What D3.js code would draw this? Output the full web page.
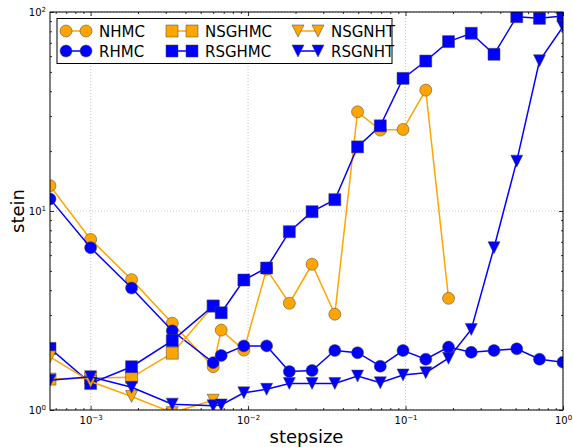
<!DOCTYPE html>
<html>
<head>
<meta charset="utf-8">
<script src="https://cdn.jsdelivr.net/npm/d3@7"></script>
<style>
  html, body { margin: 0; padding: 0; background: #fff; }
  svg { display: block; font-family: "DejaVu Sans", sans-serif; }
</style>
</head>
<body>
<svg id="chart" width="573" height="447"></svg>
<script>
// ---- data ----
const coarseSteps = [5.52e-4, 1.0e-3, 1.82e-3, 3.30e-3, 6.0e-3];
const fineSteps = [0.00675, 0.00940, 0.01311, 0.01828, 0.02549, 0.03555, 0.04957, 0.06913,
                   0.0964, 0.1344, 0.1875, 0.2614, 0.3646, 0.5084, 0.7090, 1.0];
const stepsizes = coarseSteps.concat(fineSteps);

const NHMC   = [13.4, 7.2, 4.52, 2.73, 1.65, 2.52, 2.0, 5.1, 3.44, 5.4, 3.03, 31.5, 25.5, 25.7, 40.5, 3.64];
const RHMC   = [11.5, 6.54, 4.1, 2.5, 1.73, 1.88, 2.1, 2.1, 1.56, 1.58, 1.99, 1.94, 1.66, 1.99, 1.80, 2.07, 1.95, 1.99, 2.03, 1.80, 1.74];
const NSGHMC = [1.43, 1.45, 1.46, 1.93, 3.33];
const RSGHMC = [2.04, 1.36, 1.65, 2.23, 3.33, 3.08, 4.5, 5.17, 7.87, 9.92, 11.4, 21.0, 26.8, 46.4, 56.7, 71, 78.2, 61.3, 94.7, 92.9, 95.5];
const NSGNHT = [1.85, 1.39, 1.17, 0.97, 1.12];
const RSGNHT = [1.41, 1.47, 1.30, 1.07, 1.05, 1.06, 1.22, 1.27, 1.36, 1.36, 1.36, 1.48, 1.37, 1.50, 1.54, 1.82, 2.54, 6.54, 17.8, 56.9, 84.4];

const seriesNames = ["NHMC", "RHMC", "NSGHMC", "RSGHMC", "NSGNHT", "RSGNHT"];
const seriesValues = [NHMC, RHMC, NSGHMC, RSGHMC, NSGNHT, RSGNHT];
const seriesColors = ["#FFA500", "#0000FF", "#FFA500", "#0000FF", "#FFA500", "#0000FF"];
const seriesMarkers = ["circle", "circle", "square", "square", "tri", "tri"];

const xTickExps = [-3, -2, -1, 0];
const yTickExps = [0, 1, 2];
const xLabel = "stepsize";
const yLabel = "stein";

// ---- layout ----
const L = 50, R = 563, T = 12, B = 410;
const svg = d3.select("#chart");
const x = d3.scaleLog().domain([5.52e-4, 1]).range([L, R]);
const y = d3.scaleLog().domain([1, 100]).range([B, T]);

svg.append("defs").append("clipPath").attr("id", "clip")
  .append("rect").attr("x", L).attr("y", T).attr("width", R - L).attr("height", B - T);

// grid
const grid = svg.append("g");
xTickExps.forEach(e => {
  const v = Math.pow(10, e);
  grid.append("line").attr("x1", x(v)).attr("x2", x(v)).attr("y1", T).attr("y2", B)
    .attr("stroke", "#b8b8b8").attr("stroke-width", 0.8).attr("stroke-dasharray", "1,2");
});
yTickExps.forEach(e => {
  const v = Math.pow(10, e);
  grid.append("line").attr("x1", L).attr("x2", R).attr("y1", y(v)).attr("y2", y(v))
    .attr("stroke", "#b8b8b8").attr("stroke-width", 0.8).attr("stroke-dasharray", "1,2");
});

// minor tick values
function minors(lo, hi) {
  const out = [];
  for (let e = Math.floor(Math.log10(lo)); e <= Math.ceil(Math.log10(hi)); e++) {
    for (let m = 2; m <= 9; m++) {
      const v = m * Math.pow(10, e);
      if (v >= lo && v <= hi) out.push(v);
    }
  }
  return out;
}
const xMaj = xTickExps.map(e => Math.pow(10, e));
const yMaj = yTickExps.map(e => Math.pow(10, e));
const xMin = minors(5.52e-4, 1);
const yMin = minors(1, 100);

function styleAxis(g) {
  g.select(".domain").remove();
  g.selectAll(".tick line").attr("stroke", "#000").attr("stroke-width", 0.8);
}

// major ticks (inward) with custom labels
const bottomAxis = svg.append("g").attr("transform", `translate(0,${B})`)
  .call(d3.axisBottom(x).tickValues(xMaj).tickSize(-4).tickPadding(7).tickFormat(() => ""));
styleAxis(bottomAxis);
bottomAxis.selectAll(".tick text").each(function(d) {
  const t = d3.select(this).attr("font-size", 10).attr("fill", "#000")
    .attr("font-family", "DejaVu Sans, sans-serif");
  const e = Math.round(Math.log10(d));
  t.text(null);
  t.append("tspan").text("10");
  t.append("tspan").attr("dy", -4).attr("font-size", 7).text(e < 0 ? "\u2212" + (-e) : String(e));
});
svg.append("g").attr("transform", `translate(0,${B})`)
  .call(d3.axisBottom(x).tickValues(xMin).tickSize(-2).tickFormat(() => "")).call(styleAxis);
svg.append("g").attr("transform", `translate(0,${T})`)
  .call(d3.axisTop(x).tickValues(xMaj).tickSize(-4).tickFormat(() => "")).call(styleAxis);
svg.append("g").attr("transform", `translate(0,${T})`)
  .call(d3.axisTop(x).tickValues(xMin).tickSize(-2).tickFormat(() => "")).call(styleAxis);

const leftAxis = svg.append("g").attr("transform", `translate(${L},0)`)
  .call(d3.axisLeft(y).tickValues(yMaj).tickSize(-4).tickPadding(4).tickFormat(() => ""));
styleAxis(leftAxis);
leftAxis.selectAll(".tick text").each(function(d) {
  const t = d3.select(this).attr("font-size", 10).attr("fill", "#000")
    .attr("font-family", "DejaVu Sans, sans-serif");
  const e = Math.round(Math.log10(d));
  t.text(null);
  t.append("tspan").text("10");
  t.append("tspan").attr("dy", -4).attr("font-size", 7).text(String(e));
});
svg.append("g").attr("transform", `translate(${L},0)`)
  .call(d3.axisLeft(y).tickValues(yMin).tickSize(-2).tickFormat(() => "")).call(styleAxis);
svg.append("g").attr("transform", `translate(${R},0)`)
  .call(d3.axisRight(y).tickValues(yMaj).tickSize(-4).tickFormat(() => "")).call(styleAxis);
svg.append("g").attr("transform", `translate(${R},0)`)
  .call(d3.axisRight(y).tickValues(yMin).tickSize(-2).tickFormat(() => "")).call(styleAxis);

// markers
const MS = 12;
function markerPath(type) {
  const h = MS / 2;
  if (type === "square") return `M${-h},${-h}H${h}V${h}H${-h}Z`;
  if (type === "tri") return `M${-h},${-h}H${h}L0,${h}Z`;
  return d3.symbol(d3.symbolCircle, Math.PI * h * h)();
}

// series
const plot = svg.append("g").attr("clip-path", "url(#clip)");
const line = d3.line().x(d => x(d[0])).y(d => y(d[1]));
seriesValues.forEach((vals, i) => {
  const pts = vals.map((v, j) => [stepsizes[j], v]);
  const g = plot.append("g");
  g.append("path").attr("d", line(pts)).attr("fill", "none")
    .attr("stroke", seriesColors[i]).attr("stroke-width", 1.5);
  g.selectAll("path.m").data(pts).enter().append("path").attr("class", "m")
    .attr("d", markerPath(seriesMarkers[i]))
    .attr("transform", d => `translate(${x(d[0])},${y(d[1])})`)
    .attr("fill", seriesColors[i]).attr("stroke", "#404040").attr("stroke-width", 0.5);
});

// frame
svg.append("rect").attr("x", L).attr("y", T).attr("width", R - L).attr("height", B - T)
  .attr("fill", "none").attr("stroke", "#000").attr("stroke-width", 1);

// legend
const lg = svg.append("g");
lg.append("rect").attr("x", 57).attr("y", 18.5).attr("width", 335).attr("height", 45)
  .attr("fill", "#fff").attr("stroke", "#000").attr("stroke-width", 1);
const colX = [66, 172, 298];
const rowY = [31, 51];
seriesNames.forEach((name, i) => {
  const cx = colX[Math.floor(i / 2)], cy = rowY[i % 2];
  lg.append("line").attr("x1", cx).attr("x2", cx + 20).attr("y1", cy).attr("y2", cy)
    .attr("stroke", seriesColors[i]).attr("stroke-width", 1.5);
  [cx, cx + 20].forEach(px => {
    lg.append("path").attr("d", markerPath(seriesMarkers[i]))
      .attr("transform", `translate(${px},${cy})`)
      .attr("fill", seriesColors[i]).attr("stroke", "#404040").attr("stroke-width", 0.5);
  });
  lg.append("text").attr("x", cx + 33).attr("y", cy + 5.5).attr("font-size", 15)
    .attr("fill", "#000").text(name);
});

// axis labels
svg.append("text").attr("x", (L + R) / 2).attr("y", 443).attr("text-anchor", "middle")
  .attr("font-size", 18).attr("fill", "#000").text(xLabel);
svg.append("text").attr("transform", `translate(24,${(T + B) / 2}) rotate(-90)`)
  .attr("text-anchor", "middle").attr("font-size", 18).attr("fill", "#000").text(yLabel);
</script>
</body>
</html>
